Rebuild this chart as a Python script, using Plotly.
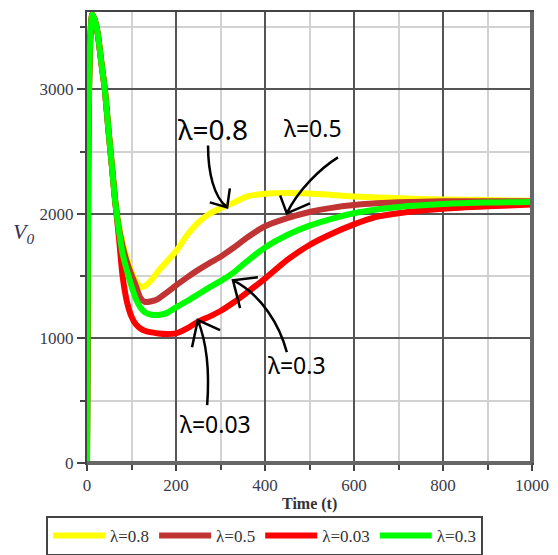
import plotly.graph_objects as go

# ---------------- data ----------------
t = [0, 1, 2, 3, 5, 8, 12, 17, 24, 32, 40, 48, 56, 64, 72, 80, 90, 100, 110,
     120, 130, 145, 160, 180, 200, 225, 250, 275, 300, 330, 360, 400, 450,
     500, 550, 600, 650, 700, 800, 900, 1000]

head = [0, 800, 1700, 2500, 3100, 3450, 3600, 3560, 3450, 3220, 3000, 2680, 2380, 2080]

v_08 = head + [1900, 1770, 1640, 1535, 1460, 1414, 1420, 1470, 1540, 1620, 1700, 1830,
               1930, 2000, 2045, 2090, 2140, 2162, 2168, 2163, 2152, 2140, 2132, 2125,
               2115, 2110, 2105]
v_05 = head + [1880, 1740, 1610, 1510, 1420, 1325, 1293, 1298, 1318, 1370, 1425, 1490,
               1550, 1605, 1655, 1730, 1810, 1900, 1965, 2015, 2048, 2070, 2084, 2093,
               2100, 2100, 2100]
v_003 = head + [1800, 1500, 1290, 1175, 1112, 1080, 1062, 1048, 1040, 1036, 1040, 1080,
                1135, 1175, 1220, 1290, 1370, 1480, 1630, 1750, 1840, 1915, 1975, 2005,
                2040, 2060, 2075]
v_03 = head + [1860, 1680, 1540, 1420, 1315, 1248, 1210, 1190, 1188, 1205, 1250, 1300,
               1355, 1410, 1460, 1530, 1620, 1730, 1830, 1905, 1960, 2005, 2035, 2055,
               2078, 2090, 2095]

series_names = ["λ=0.8", "λ=0.5", "λ=0.03", "λ=0.3"]
series_values = [v_08, v_05, v_003, v_03]
series_colors = ["#FFFF00", "#C03434", "#FF0000", "#00FF00"]

x_ticks = [0, 200, 400, 600, 800, 1000]
y_ticks = [0, 1000, 2000, 3000]

# callout labels: text, t, V, font size
labels = [("λ=0.8", 283, 2680, 28),
          ("λ=0.5", 508, 2690, 23),
          ("λ=0.3", 472, 790, 23),
          ("λ=0.03", 288, 315, 23)]

# curved arrows: start, control1, control2, tip, prong1, prong2 (t, V)
arrows = [
    [(272, 2549), (272, 2333), (285, 2132), (315, 2052), (276, 2092), (321, 2204)],
    [(564, 2453), (524, 2364), (474, 2188), (449, 2004), (434, 2148), (501, 2084)],
    [(449, 890), (433, 1106), (393, 1347), (328, 1467), (344, 1243), (384, 1491)],
    [(270, 465), (276, 746), (267, 986), (249, 1147), (236, 930), (299, 1066)],
]

fig = go.Figure()
for name, vals, col in zip(series_names, series_values, series_colors):
    fig.add_trace(go.Scatter(x=t, y=vals, mode="lines", name=name,
                             line=dict(color=col, width=6, shape="spline", smoothing=0.7)))

shapes = []
for a in arrows:
    s, c1, c2, tip, p1, p2 = a
    path = (f"M {s[0]},{s[1]} C {c1[0]},{c1[1]} {c2[0]},{c2[1]} {tip[0]},{tip[1]} "
            f"M {p1[0]},{p1[1]} L {tip[0]},{tip[1]} L {p2[0]},{p2[1]}")
    shapes.append(dict(type="path", xref="x", yref="y", path=path,
                       line=dict(color="black", width=2.5)))
# heavier right and bottom frame
shapes.append(dict(type="line", xref="paper", yref="paper", x0=1, x1=1, y0=0, y1=1,
                   line=dict(color="#666", width=4)))
shapes.append(dict(type="line", xref="paper", yref="paper", x0=0, x1=1, y0=0, y1=0,
                   line=dict(color="#666", width=4)))

annotations = []
for txt, tx, vy, fs in labels:
    annotations.append(dict(x=tx, y=vy, xref="x", yref="y", text=txt, showarrow=False,
                            font=dict(family="Noto Sans", size=fs, color="black")))
annotations.append(dict(x=-0.17, y=0.51, xref="paper", yref="paper",
                        text="<i>V<sub>0</sub></i>", showarrow=False,
                        font=dict(family="Liberation Serif", size=22, color="#333355")))
annotations.append(dict(x=0.5, y=-0.092, xref="paper", yref="paper",
                        text="<b>Time (t)</b>", showarrow=False, yanchor="middle",
                        font=dict(family="Liberation Serif", size=16, color="#333")))

fig.update_layout(
    width=558, height=555,
    margin=dict(l=87, r=26, t=12, b=92, autoexpand=False),
    paper_bgcolor="white", plot_bgcolor="white",
    showlegend=True,
    legend=dict(orientation="h", x=-0.0921, xanchor="left", y=-0.1175, yanchor="top",
                bordercolor="#444", borderwidth=2, bgcolor="white",
                font=dict(family="Liberation Serif", size=17, color="#333"),
                itemwidth=52, tracegroupgap=0),
    shapes=shapes, annotations=annotations,
)
axis_font = dict(family="Liberation Serif", size=17, color="#3a3a4a")
fig.update_xaxes(range=[0, 1000], tickvals=x_ticks, ticktext=[str(v) for v in x_ticks],
                 showline=True, mirror=True, linecolor="#444", linewidth=2,
                 showgrid=True, gridcolor="#555", gridwidth=1.5, zeroline=False,
                 ticks="outside", ticklen=6, tickcolor="#444", tickwidth=1.5,
                 tickfont=axis_font, automargin=False,
                 minor=dict(dtick=100, tick0=0, showgrid=True, gridcolor="#d2d2d2",
                            gridwidth=1.5, ticks="outside", ticklen=5, tickcolor="#444"))
fig.update_yaxes(range=[0, 3620], tickvals=y_ticks, ticktext=[str(v) for v in y_ticks],
                 showline=True, mirror=True, linecolor="#444", linewidth=2,
                 showgrid=True, gridcolor="#555", gridwidth=1.5, zeroline=False,
                 ticks="outside", ticklen=8, tickcolor="#444", tickwidth=1.5,
                 tickfont=axis_font, automargin=False,
                 minor=dict(dtick=500, tick0=0, showgrid=True, gridcolor="#d2d2d2",
                            gridwidth=1.5, ticks="outside", ticklen=5, tickcolor="#444"))

fig.write_html("out.html")
